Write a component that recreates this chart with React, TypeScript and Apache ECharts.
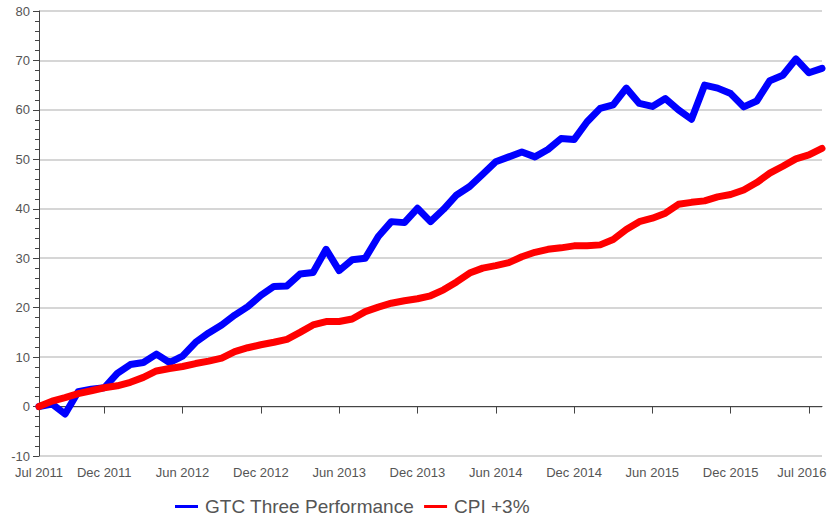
import React, { useEffect, useRef } from "react";
import * as echarts from "echarts";

const categories: string[] = [
  "2011-07", "2011-08", "2011-09", "2011-10", "2011-11", "2011-12",
  "2012-01", "2012-02", "2012-03", "2012-04", "2012-05", "2012-06",
  "2012-07", "2012-08", "2012-09", "2012-10", "2012-11", "2012-12",
  "2013-01", "2013-02", "2013-03", "2013-04", "2013-05", "2013-06",
  "2013-07", "2013-08", "2013-09", "2013-10", "2013-11", "2013-12",
  "2014-01", "2014-02", "2014-03", "2014-04", "2014-05", "2014-06",
  "2014-07", "2014-08", "2014-09", "2014-10", "2014-11", "2014-12",
  "2015-01", "2015-02", "2015-03", "2015-04", "2015-05", "2015-06",
  "2015-07", "2015-08", "2015-09", "2015-10", "2015-11", "2015-12",
  "2016-01", "2016-02", "2016-03", "2016-04", "2016-05", "2016-07",
  "2016-08",
];

const tickIndices: number[] = [0, 5, 11, 17, 23, 29, 35, 41, 47, 53, 59];
const tickLabels: string[] = [
  "Jul 2011", "Dec 2011", "Jun 2012", "Dec 2012", "Jun 2013", "Dec 2013",
  "Jun 2014", "Dec 2014", "Jun 2015", "Dec 2015", "Jul 2016",
];

const gtcThree: number[] = [
  0, 0.5, -1.5, 3.0, 3.5, 3.8, 6.7, 8.5, 8.9, 10.6,
  8.9, 10.2, 13.0, 14.9, 16.5, 18.5, 20.2, 22.5, 24.3, 24.4,
  26.8, 27.1, 31.8, 27.5, 29.7, 30.0, 34.4, 37.4, 37.2, 40.1,
  37.4, 39.9, 42.8, 44.5, 47.0, 49.5, 50.5, 51.5, 50.5, 52.0,
  54.2, 54.0, 57.6, 60.3, 61.0, 64.4, 61.3, 60.7, 62.3, 60.0,
  58.1, 65.0, 64.4, 63.3, 60.6, 61.8, 65.9, 67.0, 70.3, 67.5,
  68.4,
];

const cpiPlus3: number[] = [
  0, 1.1, 1.8, 2.6, 3.2, 3.8, 4.2, 4.9, 5.9, 7.2,
  7.7, 8.1, 8.7, 9.2, 9.8, 11.1, 11.9, 12.5, 13.0, 13.6,
  15.0, 16.5, 17.2, 17.2, 17.7, 19.2, 20.1, 20.9, 21.4, 21.8,
  22.4, 23.6, 25.2, 27.0, 28.0, 28.5, 29.1, 30.3, 31.2, 31.8,
  32.1, 32.5, 32.5, 32.7, 33.8, 35.8, 37.4, 38.1, 39.1, 40.9,
  41.3, 41.6, 42.4, 42.9, 43.8, 45.3, 47.2, 48.6, 50.1, 50.9,
  52.2,
];

const seriesNames: string[] = ["GTC Three Performance", "CPI +3%"];
const seriesColors: string[] = ["#0000ff", "#ff0000"];

const FONT = "'Liberation Sans', Arial, Helvetica, sans-serif";

export default function App() {
  const ref = useRef<HTMLDivElement>(null);

  useEffect(() => {
    if (!ref.current) return;
    const chart = echarts.init(ref.current, null, { renderer: "svg" });
    const labelMap: Record<number, string> = {};
    tickIndices.forEach((idx, k) => {
      labelMap[idx] = tickLabels[k];
    });
    const lastTick = tickIndices[tickIndices.length - 1];
    chart.setOption({
      animation: false,
      backgroundColor: "#ffffff",
      textStyle: { fontFamily: FONT },
      grid: {
        left: 39,
        right: 5,
        top: 11,
        bottom: 60,
        containLabel: false,
        outerBoundsMode: "none",
      },
      legend: {
        left: 175,
        top: 497,
        padding: 0,
        itemWidth: 23,
        itemHeight: 3,
        itemGap: 10,
        icon: "rect",
        textStyle: { fontSize: 19, color: "#555555", fontFamily: FONT, padding: [0, 0, 0, 2] },
        data: seriesNames,
      },
      xAxis: {
        type: "category",
        data: categories,
        boundaryGap: false,
        axisLine: { show: true, lineStyle: { color: "#444444", width: 1 } },
        axisTick: {
          show: true,
          length: 7,
          lineStyle: { color: "#444444" },
          interval: (index: number) => labelMap[index] !== undefined,
        },
        axisLabel: {
          show: true,
          margin: 10,
          fontSize: 13,
          color: "#555555",
          fontFamily: FONT,
          hideOverlap: false,
          interval: (index: number) => labelMap[index] !== undefined,
          formatter: (_v: string, index: number) => {
            const t = labelMap[index];
            if (t === undefined) return "";
            return index === lastTick ? "{last|" + t + "}" : t;
          },
          rich: {
            last: {
              fontSize: 13,
              color: "#555555",
              fontFamily: FONT,
              padding: [0, 14, 0, 0],
            },
          },
        },
        splitLine: { show: false },
      },
      yAxis: {
        type: "value",
        min: -10,
        max: 80,
        interval: 10,
        axisLine: { show: true, lineStyle: { color: "#444444", width: 1 } },
        axisTick: { show: true, length: 6, lineStyle: { color: "#444444" } },
        minorTick: { show: true, splitNumber: 5, length: 4, lineStyle: { color: "#444444" } },
        axisLabel: { margin: 9, fontSize: 13, color: "#555555", fontFamily: FONT },
        splitLine: { show: true, lineStyle: { color: "#c8c8c8", width: 1.5 } },
      },
      series: [
        {
          name: seriesNames[0],
          type: "line",
          data: gtcThree,
          showSymbol: false,
          symbol: "none",
          color: seriesColors[0],
          lineStyle: { color: seriesColors[0], width: 7, join: "round", cap: "round" },
          z: 3,
        },
        {
          name: seriesNames[1],
          type: "line",
          data: cpiPlus3,
          showSymbol: false,
          symbol: "none",
          color: seriesColors[1],
          lineStyle: { color: seriesColors[1], width: 7, join: "round", cap: "round" },
          z: 4,
        },
      ],
    });
    return () => chart.dispose();
  }, []);

  return (
    <div
      ref={ref}
      style={{ position: "fixed", left: 0, top: 0, width: 827, height: 516 }}
    />
  );
}
